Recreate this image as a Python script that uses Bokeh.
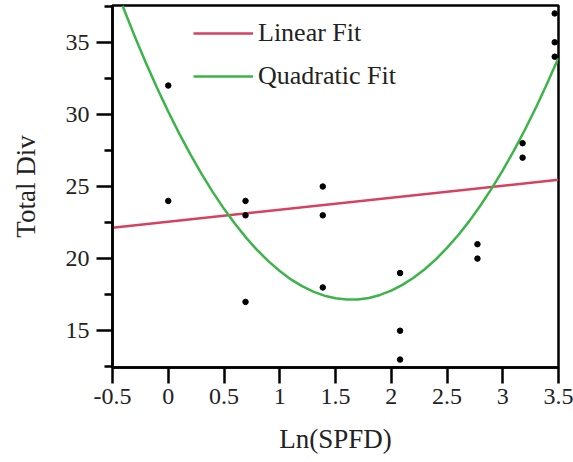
from bokeh.plotting import figure
from bokeh.models import FixedTicker, Legend, LegendItem, Range1d
from bokeh.embed import file_html
from bokeh.resources import INLINE

# data points (Ln(SPFD), Total Div)
pts_x = [0.0, 0.0, 0.693, 0.693, 0.693, 1.386, 1.386, 1.386, 2.079, 2.079, 2.079,
         2.773, 2.773, 3.178, 3.178, 3.466, 3.466, 3.466]
pts_y = [32, 24, 24, 23, 17, 25, 23, 18, 19, 15, 13, 21, 20, 28, 27, 37, 35, 34]

# linear fit line
lin_x = [-0.5, 3.5]
lin_y = [22.14, 25.47]

# quadratic fit curve
quad_x = [-0.41, -0.3, -0.2, -0.1, 0.0, 0.1, 0.2, 0.3, 0.4, 0.5, 0.6, 0.7, 0.8, 0.9,
          1.0, 1.1, 1.2, 1.3, 1.4, 1.5, 1.6, 1.7, 1.8, 1.9, 2.0, 2.1, 2.2, 2.3,
          2.4, 2.5, 2.6, 2.7, 2.8, 2.9, 3.0, 3.1, 3.2, 3.3, 3.4, 3.5]
quad_y = [37.53, 35.40, 33.57, 31.83, 30.19, 28.65, 27.21, 25.86, 24.61, 23.45,
          22.40, 21.44, 20.57, 19.81, 19.14, 18.56, 18.09, 17.71, 17.43, 17.25,
          17.16, 17.17, 17.27, 17.48, 17.78, 18.18, 18.67, 19.26, 19.95, 20.74,
          21.62, 22.60, 23.68, 24.85, 26.12, 27.49, 28.95, 30.51, 32.17, 33.93]

x_ticks = [-0.5, 0, 0.5, 1, 1.5, 2, 2.5, 3, 3.5]
x_tick_labels = ["-0.5", "0", "0.5", "1", "1.5", "2", "2.5", "3", "3.5"]
y_ticks = [15, 20, 25, 30, 35]
y_minor = [12.5, 17.5, 22.5, 27.5, 32.5, 37.5]

FONT = "Liberation Serif"
RED = "#d6415f"
GREEN = "#3cb44a"

p = figure(width=573, height=462, output_backend="svg", toolbar_location=None,
           x_range=Range1d(-0.5, 3.5), y_range=Range1d(12.45, 37.55),
           min_border_left=112, min_border_right=15, min_border_top=5,
           min_border_bottom=95)
p.xgrid.visible = False
p.ygrid.visible = False
p.outline_line_color = "black"
p.outline_line_width = 2.5
p.outline_line_alpha = 1.0
p.background_fill_color = "white"
p.border_fill_color = "white"

r_lin = p.line(lin_x, lin_y, line_color=RED, line_width=2.5)
r_quad = p.line(quad_x, quad_y, line_color=GREEN, line_width=2.5, line_join="round")
p.scatter(pts_x, pts_y, size=5.5, color="black")

xa = p.xaxis[0]
xa.ticker = FixedTicker(ticks=x_ticks, minor_ticks=[])
xa.major_label_overrides = {t: l for t, l in zip(x_ticks, x_tick_labels)}
ya = p.yaxis[0]
ya.ticker = FixedTicker(ticks=y_ticks, minor_ticks=y_minor)

for ax in (xa, ya):
    ax.axis_line_width = 2.5
    ax.axis_line_color = "black"
    ax.major_tick_line_width = 2.5
    ax.minor_tick_line_width = 2.5
    ax.major_tick_out = 16
    ax.major_tick_in = 0
    ax.minor_tick_out = 8
    ax.minor_tick_in = 0
    ax.major_label_text_font = FONT
    ax.major_label_text_font_size = "24px"
    ax.major_label_text_color = "#222222"
    ax.axis_label_text_font = FONT
    ax.axis_label_text_font_size = "27px"
    ax.axis_label_text_font_style = "normal"
    ax.axis_label_text_color = "#222222"

xa.axis_label = "Ln(SPFD)"
xa.major_label_standoff = 5
xa.axis_label_standoff = 17
ya.axis_label = "Total Div"
ya.major_label_standoff = 7
ya.axis_label_standoff = 22

legend = Legend(items=[LegendItem(label="Linear Fit", renderers=[r_lin]),
                       LegendItem(label="Quadratic Fit", renderers=[r_quad])],
                location=(81, 275), orientation="vertical")
legend.border_line_color = None
legend.background_fill_alpha = 0
legend.padding = 0
legend.margin = 0
legend.spacing = 10
legend.glyph_width = 60
legend.glyph_height = 20
legend.label_height = 33
legend.label_standoff = 5
legend.label_text_font = FONT
legend.label_text_font_size = "26px"
legend.label_text_color = "#222222"
p.add_layout(legend, "center")

open("out.html", "w").write(file_html(p, INLINE))
